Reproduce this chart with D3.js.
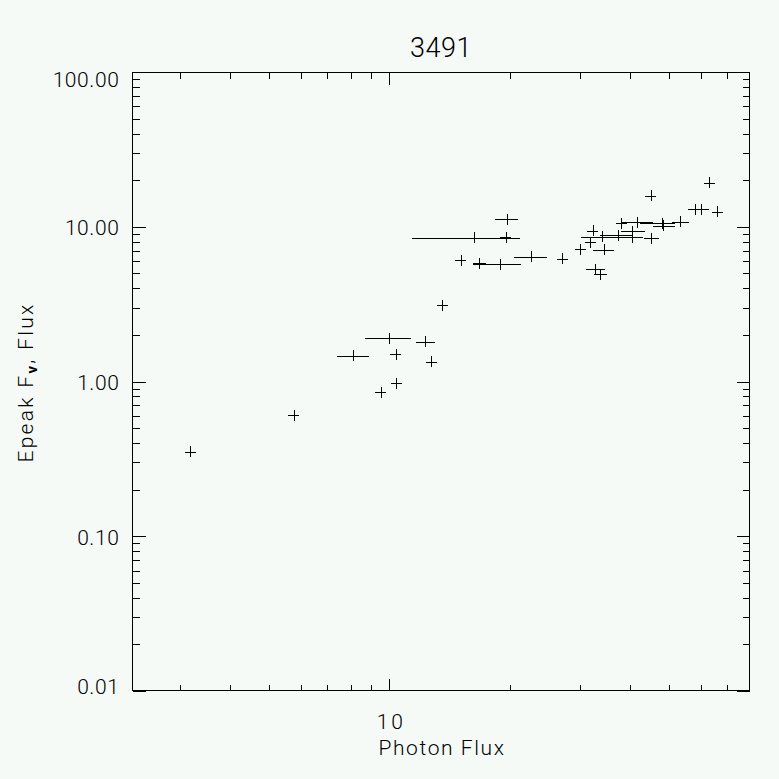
<!DOCTYPE html>
<html><head><meta charset="utf-8">
<script src="https://cdn.jsdelivr.net/npm/d3@7"></script>
<style>
html,body{margin:0;padding:0;background:#f5faf6;}
svg{display:block;}
text{font-family:Roboto,"DejaVu Sans",sans-serif;font-weight:300;fill:#000;}
</style></head>
<body>
<script>
// ---- data ----
const title = "3491";
const xTitle = "Photon Flux";
const photonFlux = [3.18,5.77,8.13,10.0,10.39,9.52,10.41,12.30,12.74,13.57,15.07,16.33,16.79,18.95,19.54,19.72,22.67,27.03,30.01,31.81,32.25,34.36,32.73,33.69,34.12,37.24,38.06,41.69,40.55,40.55,45.24,45.06,47.97,48.42,53.46,58.21,60.33,63.10,66.07];
const photonFluxLo = [3.18,5.77,7.41,8.71,10.39,9.52,10.41,11.68,12.74,13.57,15.07,11.40,16.16,16.16,19.10,18.41,20.54,27.03,30.01,31.81,32.25,32.36,31.02,32.55,30.2,33.63,37.09,38.06,38.06,38.06,43.4,45.06,42.33,45.55,50.99,55.92,58.1,63.10,66.07];
const photonFluxHi = [3.18,5.77,8.88,11.31,10.39,9.52,10.41,12.99,12.74,13.57,15.07,21.18,17.45,21.31,20.04,20.94,24.75,27.03,30.01,31.81,32.25,36.39,34.55,34.95,38.18,40.45,39.06,45.55,43.58,42.99,47.15,45.06,51.79,51.79,56.06,60.5,62.88,63.10,66.07];
const epeakFlux = [0.352,0.607,1.462,1.910,1.501,0.855,0.975,1.803,1.339,3.11,6.06,8.46,5.81,5.74,8.56,11.22,6.38,6.20,7.16,7.92,9.43,7.08,5.33,4.94,8.63,8.80,10.57,10.70,9.36,8.56,8.41,15.83,10.57,10.16,10.75,13.02,13.02,19.27,12.51];
const xMajorTicks = [10];
const xMinorTicks = [3,4,5,6,7,8,9,20,30,40,50,60,70];
const yMajorTicks = [0.01,0.1,1,10,100];
const yMinorTicks = [];
[0.01,0.1,1,10].forEach(d => { for (let k = 2; k <= 9; k++) yMinorTicks.push(+(d*k).toPrecision(3)); });
const xDomain = [2.274, 79.76];
const yDomain = [0.01, 100];

// ---- layout ----
const W = 779, H = 779;
const L = 132, R = 750, T = 72, B = 691;

const svg = d3.select("body").append("svg").attr("width", W).attr("height", H);
svg.append("rect").attr("width", W).attr("height", H).attr("fill", "#f5faf6");

const x = d3.scaleLog().domain(xDomain).range([L, R]);
const y = d3.scaleLog().domain(yDomain).range([B, T]);

// frame
svg.append("rect").attr("x", L + 0.5).attr("y", T + 0.5).attr("width", R - L - 1).attr("height", B - T - 1)
  .attr("fill", "none").attr("stroke", "#000").attr("stroke-width", 1).attr("shape-rendering", "crispEdges");

function styleAxis(g) {
  g.select(".domain").remove();
  g.selectAll("line").attr("stroke", "#000").attr("shape-rendering", "crispEdges");
}
const fmtY = d3.format(".2f");

// bottom axis
svg.append("g").attr("transform", `translate(0,${B - 0.5})`)
  .call(d3.axisBottom(x).tickValues(xMajorTicks).tickSize(-12).tickPadding(24).tickFormat(d3.format("d")))
  .call(styleAxis)
  .call(g => g.selectAll("text").attr("font-size", 21).attr("font-family", null)
    .attr("letter-spacing", "3px").attr("dx", "1.5px"));
svg.append("g").attr("transform", `translate(0,${B - 0.5})`)
  .call(d3.axisBottom(x).tickValues(xMinorTicks).tickSize(-6).tickFormat(""))
  .call(styleAxis);
// top axis
svg.append("g").attr("transform", `translate(0,${T + 0.5})`)
  .call(d3.axisTop(x).tickValues(xMajorTicks).tickSize(-12).tickFormat(""))
  .call(styleAxis);
svg.append("g").attr("transform", `translate(0,${T + 0.5})`)
  .call(d3.axisTop(x).tickValues(xMinorTicks).tickSize(-6).tickFormat(""))
  .call(styleAxis);
// left axis
svg.append("g").attr("transform", `translate(${L + 0.5},0)`)
  .call(d3.axisLeft(y).tickValues(yMajorTicks).tickSize(-13).tickPadding(13).tickFormat(fmtY))
  .call(styleAxis)
  .call(g => g.selectAll("text").attr("font-size", 21).attr("font-family", null)
    .attr("dy", d => d === 100 ? "0.67em" : d === 0.01 ? "0.14em" : "0.38em")
    .attr("letter-spacing", "0.6px"));
svg.append("g").attr("transform", `translate(${L + 0.5},0)`)
  .call(d3.axisLeft(y).tickValues(yMinorTicks).tickSize(-7).tickFormat(""))
  .call(styleAxis);
// right axis
svg.append("g").attr("transform", `translate(${R - 0.5},0)`)
  .call(d3.axisRight(y).tickValues(yMajorTicks).tickSize(-13).tickFormat(""))
  .call(styleAxis);
svg.append("g").attr("transform", `translate(${R - 0.5},0)`)
  .call(d3.axisRight(y).tickValues(yMinorTicks).tickSize(-7).tickFormat(""))
  .call(styleAxis);

// titles
svg.append("text").attr("x", (L + R) / 2).attr("y", 57).attr("text-anchor", "middle")
  .attr("font-size", 27).attr("letter-spacing", "0.5px").text(title);
svg.append("text").attr("x", (L + R) / 2 + 1).attr("y", 755).attr("text-anchor", "middle")
  .attr("font-size", 21).attr("letter-spacing", "1.6px").text(xTitle);
const yt = svg.append("text").attr("transform", `translate(33,${(T + B) / 2 + 1}) rotate(-90)`)
  .attr("text-anchor", "middle").attr("font-size", 21).attr("letter-spacing", "2.3px");
yt.append("tspan").text("Epeak F");
yt.append("tspan").attr("baseline-shift", "-25%").attr("font-size", 15).attr("font-weight", 700).text("\u03bd");
yt.append("tspan").text(", Flux");

// data: error bars and plus markers
const data = photonFlux.map((v, i) => ({ x: v, lo: photonFluxLo[i], hi: photonFluxHi[i], y: epeakFlux[i] }));
const px = v => Math.round(v) + 0.5;
const pts = svg.append("g").attr("stroke", "#000").attr("stroke-width", 1).attr("shape-rendering", "crispEdges");
pts.selectAll("line.err").data(data.filter(d => d.hi > d.lo)).join("line").attr("class", "err")
  .attr("x1", d => x(d.lo)).attr("x2", d => x(d.hi))
  .attr("y1", d => px(y(d.y))).attr("y2", d => px(y(d.y)));
pts.selectAll("line.ph").data(data).join("line").attr("class", "ph")
  .attr("x1", d => x(d.x) - 5.5).attr("x2", d => x(d.x) + 5.5)
  .attr("y1", d => px(y(d.y))).attr("y2", d => px(y(d.y)));
pts.selectAll("line.pv").data(data).join("line").attr("class", "pv")
  .attr("x1", d => px(x(d.x))).attr("x2", d => px(x(d.x)))
  .attr("y1", d => y(d.y) - 5.5).attr("y2", d => y(d.y) + 5.5);
</script>
</body></html>
